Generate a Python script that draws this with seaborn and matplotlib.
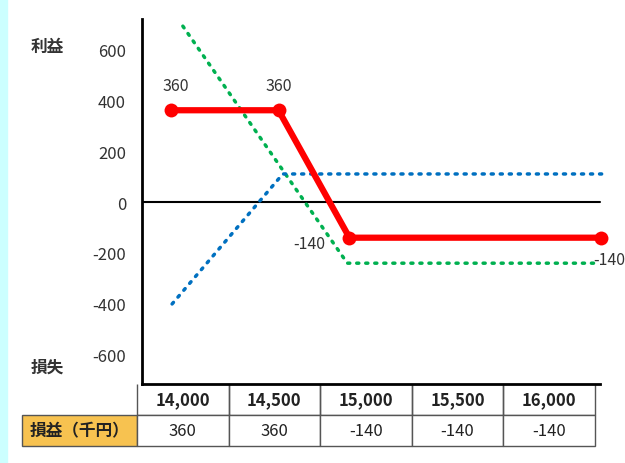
import matplotlib
matplotlib.use('Agg')
import pandas as pd
import seaborn as sns
import matplotlib.pyplot as plt
from matplotlib.patches import Rectangle

# payoff lines (x = price as drawn on the chart, y = profit/loss in thousand yen)
red_x = [14000, 14500, 14830, 16000]
red_y = [360, 360, -140, -140]
green_x = [14055, 14820, 15995]
green_y = [690, -240, -240]
blue_x = [14005, 14520, 16020]
blue_y = [-400, 110, 110]

y_ticks = [600, 400, 200, 0, -200, -400, -600]

# table under the chart
table_prices = ['14,000', '14,500', '15,000', '15,500', '16,000']
table_pl = ['360', '360', '-140', '-140', '-140']
row_label = '損益（千円）'

sns.set_style('white')
plt.rcParams['font.family'] = ['Noto Sans CJK JP', 'DejaVu Sans']
plt.rcParams['axes.unicode_minus'] = False

fig = plt.figure(figsize=(6.25, 4.64), dpi=100)
fig.patches.append(Rectangle((0, 0), 7 / 625, 1, transform=fig.transFigure,
                             color='#CCFFFF', zorder=0))
ax = fig.add_axes([142 / 625, 79 / 464, 468 / 625, 365 / 464])

df_red = pd.DataFrame({'price': red_x, 'pl': red_y})
df_green = pd.DataFrame({'price': green_x, 'pl': green_y})
df_blue = pd.DataFrame({'price': blue_x, 'pl': blue_y})

ax.axhline(0, xmin=0, xmax=(600 - 142) / 468, color='black', lw=1.5, zorder=1)
sns.lineplot(data=df_green, x='price', y='pl', ax=ax, color='#00B050', lw=2.5,
             ls=(0, (0.6, 2.0)), dash_capstyle='round', zorder=2)
sns.lineplot(data=df_blue, x='price', y='pl', ax=ax, color='#0070C0', lw=2.5,
             ls=(0, (0.6, 2.0)), dash_capstyle='round', zorder=2)
sns.lineplot(data=df_red, x='price', y='pl', ax=ax, color='#FF0000', lw=4.5,
             marker='o', markersize=10, markeredgewidth=0, zorder=3)

# point labels
offsets = [(3.5, 18), (0, 18), (-29, -4), (6, -16)]
for x, y, off in zip(red_x, red_y, offsets):
    ax.annotate(f'{y}', (x, y), xytext=off, textcoords='offset points',
                ha='center', va='center', fontsize=11.5, color='#333333')

ax.set_xlim(13865, 16042)
ax.set_ylim(-714, 718)
ax.set_xticks([])
ax.set_yticks(y_ticks)
ax.set_yticklabels([str(v) for v in y_ticks])
ax.tick_params(axis='y', length=0, pad=11.5, labelsize=12, labelcolor='#333333')
ax.set_xlabel('')
ax.set_ylabel('')
for s in ['top', 'right']:
    ax.spines[s].set_visible(False)
ax.spines['left'].set_color('black')
ax.spines['left'].set_linewidth(2)
ax.spines['bottom'].set_color('black')
ax.spines['bottom'].set_linewidth(2)
ax.spines['bottom'].set_bounds(13865, 15995)

fig.text(47 / 625, 1 - 47 / 464, '利益', ha='center', va='center',
         fontsize=12, fontweight='bold', color='#333333')
fig.text(47 / 625, 1 - 368 / 464, '損失', ha='center', va='center',
         fontsize=12, fontweight='bold', color='#333333')

# table
cells = [[''] + table_prices, [row_label] + table_pl]
widths = [115] + [91.6] * 5
total = sum(widths)
tab = ax.table(cellText=cells, colWidths=[w / total for w in widths],
               bbox=[(22 - 142) / 468, (385 - 447) / 365, total / 468, 62 / 365],
               cellLoc='center')
tab.auto_set_font_size(False)
for (r, c), cell in tab.get_celld().items():
    cell.set_edgecolor('#555555')
    cell.set_linewidth(1)
    cell.get_text().set_fontsize(12)
    cell.get_text().set_color('#222222')
    if r == 0:
        cell.get_text().set_fontweight('bold')
        if c == 0:
            cell.visible_edges = ''
        else:
            cell.visible_edges = 'LRB'
    if r == 1 and c == 0:
        cell.set_facecolor('#F7C250')
        cell.get_text().set_fontweight('bold')

fig.savefig('out.png', dpi=100)
